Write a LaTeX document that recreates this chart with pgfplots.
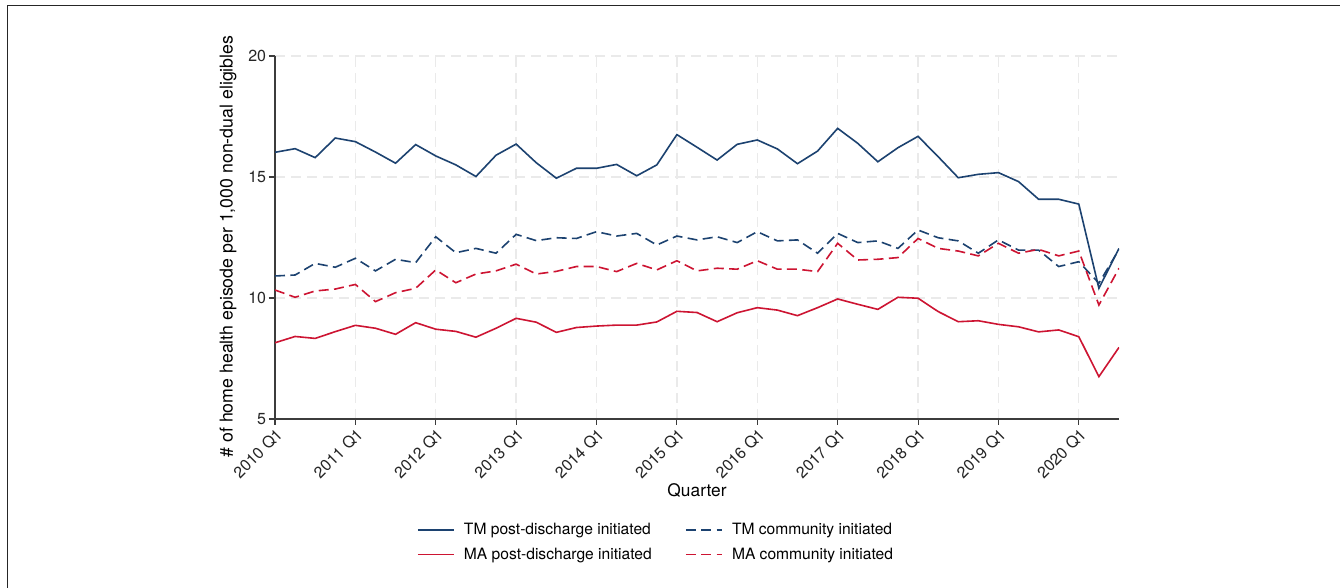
\documentclass[border=0pt]{standalone}
\usepackage{fontspec}
\setmainfont{TeX Gyre Heros}
\usepackage{pgfplots}
\pgfplotsset{compat=1.18}
\definecolor{tmblue}{RGB}{28,66,112}
\definecolor{mared}{RGB}{205,20,50}
\definecolor{gridgray}{RGB}{234,234,234}
\definecolor{axgray}{RGB}{60,60,60}
\begin{document}
\begin{tikzpicture}[x=0.75pt,y=0.75pt]
\useasboundingbox (0,0) rectangle (1340,588);
\fill[white] (0,0) rectangle (1340,588);
\draw[line width=1pt,black!85] (7.5,0) -- (7.5,582.5) -- (1340,582.5);
\begin{axis}[
  at={(206.25pt,126.75pt)}, anchor=south west,
  scale only axis, width=633pt, height=272.25pt,
  xmin=0, xmax=42, ymin=5, ymax=20,
  axis lines*=left,
  axis line style={axgray, line width=0.9pt},
  xtick={0,4,...,40},
  xticklabels={2010 Q1,2011 Q1,2012 Q1,2013 Q1,2014 Q1,2015 Q1,2016 Q1,2017 Q1,2018 Q1,2019 Q1,2020 Q1},
  ytick={5,10,15,20},
  tick align=outside, major tick length=4.5pt,
  tick style={axgray, line width=0.8pt},
  grid=major,
  major grid style={gridgray, line width=1pt, dash pattern=on 7.5pt off 4.5pt},
  /pgf/number format/assume math mode=true,
  font=\fontsize{12}{14.4}\selectfont,
  tick label style={font=\fontsize{12}{14.4}\selectfont, black!85},
  xticklabel style={rotate=45, anchor=north east, inner sep=1pt},
  yticklabel style={inner sep=2pt},
  xlabel={Quarter},
  ylabel={\# of home health episode per 1,000 non-dual eligibles},
  xlabel style={at={(axis description cs:0.5,-0.166)}, anchor=north, font=\fontsize{13}{15.6}\selectfont},
  ylabel style={at={(axis description cs:-0.040,0.475)}, anchor=south, font=\fontsize{13.3}{16}\selectfont},
  legend columns=2,
  legend cell align=left,
  legend style={draw=none, fill=none, at={(axis description cs:0.168,-0.282)}, anchor=north west,
    font=\fontsize{11.7}{14}\selectfont, inner sep=0pt, row sep=6pt,
    nodes={inner sep=1pt, text depth=0.2em},
    /tikz/every odd column/.append style={column sep=6pt},
    /tikz/every even column/.append style={column sep=24pt}},
  legend image code/.code={\draw[#1] (0pt,0pt) -- (27pt,0pt);},
  every axis plot/.append style={line width=1.2pt},
]
\addplot[tmblue, solid] coordinates {
(0,16.02) (1,16.17) (2,15.80) (3,16.61) (4,16.46) (5,16.03) (6,15.57) (7,16.34) (8,15.87) (9,15.50)
(10,15.02) (11,15.90) (12,16.36) (13,15.59) (14,14.95) (15,15.36) (16,15.36) (17,15.52) (18,15.05) (19,15.50)
(20,16.75) (21,16.23) (22,15.70) (23,16.35) (24,16.53) (25,16.16) (26,15.55) (27,16.07) (28,17.01) (29,16.39)
(30,15.63) (31,16.21) (32,16.68) (33,15.84) (34,14.97) (35,15.11) (36,15.18) (37,14.81) (38,14.08) (39,14.08)
(40,13.88) (41,10.40) (42,12.05)};
\addlegendentry{TM post-discharge initiated}
\addplot[tmblue, dash pattern=on 7.5pt off 4pt] coordinates {
(0,10.91) (1,10.95) (2,11.43) (3,11.27) (4,11.64) (5,11.12) (6,11.60) (7,11.46) (8,12.53) (9,11.87)
(10,12.05) (11,11.85) (12,12.63) (13,12.37) (14,12.49) (15,12.46) (16,12.74) (17,12.56) (18,12.67) (19,12.19)
(20,12.56) (21,12.40) (22,12.53) (23,12.29) (24,12.74) (25,12.36) (26,12.40) (27,11.85) (28,12.67) (29,12.29)
(30,12.36) (31,12.05) (32,12.81) (33,12.49) (34,12.36) (35,11.85) (36,12.40) (37,11.98) (38,11.98) (39,11.30)
(40,11.50) (41,10.61) (42,12.01)};
\addlegendentry{TM community initiated}
\addplot[mared, solid] coordinates {
(0,8.15) (1,8.41) (2,8.33) (3,8.61) (4,8.87) (5,8.75) (6,8.50) (7,8.98) (8,8.71) (9,8.62)
(10,8.38) (11,8.75) (12,9.16) (13,9.00) (14,8.58) (15,8.78) (16,8.84) (17,8.88) (18,8.88) (19,9.01)
(20,9.45) (21,9.40) (22,9.02) (23,9.39) (24,9.60) (25,9.50) (26,9.27) (27,9.60) (28,9.96) (29,9.74)
(30,9.53) (31,10.03) (32,9.99) (33,9.44) (34,9.02) (35,9.06) (36,8.91) (37,8.81) (38,8.60) (39,8.68)
(40,8.40) (41,6.75) (42,7.96)};
\addlegendentry{MA post-discharge initiated}
\addplot[mared, dash pattern=on 7.5pt off 4pt] coordinates {
(0,10.33) (1,10.03) (2,10.29) (3,10.37) (4,10.56) (5,9.85) (6,10.22) (7,10.40) (8,11.16) (9,10.63)
(10,10.99) (11,11.12) (12,11.40) (13,10.99) (14,11.10) (15,11.30) (16,11.30) (17,11.09) (18,11.43) (19,11.16)
(20,11.54) (21,11.12) (22,11.23) (23,11.19) (24,11.54) (25,11.19) (26,11.19) (27,11.09) (28,12.26) (29,11.57)
(30,11.60) (31,11.67) (32,12.46) (33,12.05) (34,11.94) (35,11.74) (36,12.26) (37,11.85) (38,12.01) (39,11.74)
(40,11.94) (41,9.71) (42,11.23)};
\addlegendentry{MA community initiated}
\end{axis}
\end{tikzpicture}
\end{document}
